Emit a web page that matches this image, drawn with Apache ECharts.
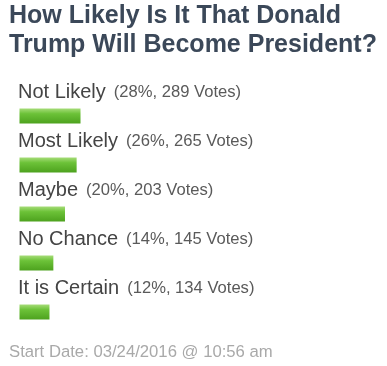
<!DOCTYPE html>
<html><head><meta charset="utf-8">
<script src="https://cdn.jsdelivr.net/npm/echarts@6/dist/echarts.min.js"></script>
<style>html,body{margin:0;padding:0;background:#fff}#c{width:387px;height:366px}</style>
</head><body><div id="c"></div>
<script>
const titleText = "How Likely Is It That Donald\nTrump Will Become President?";
const footerText = "Start Date: 03/24/2016 @ 10:56 am";
const categories = ["Not Likely", "Most Likely", "Maybe", "No Chance", "It is Certain"];
const percents = [28, 26, 20, 14, 12];
const votes = [289, 265, 203, 145, 134];

const BASE = 3.45; // bar padding (style)
const chart = echarts.init(document.getElementById('c'), null, {renderer: 'canvas'});
const green = new echarts.graphic.LinearGradient(0, 0, 0, 1, [
  {offset: 0, color: '#a6dc78'},
  {offset: 0.35, color: '#6cc238'},
  {offset: 1, color: '#4da21e'}
]);
chart.setOption({
  animation: false,
  title: [{
    text: titleText, left: 9, top: 2, padding: 0,
    textStyle: {fontFamily: 'Liberation Sans, Arial', fontWeight: 'bold', fontSize: 25, lineHeight: 29, color: '#3b4859'}
  }, {
    text: footerText, left: 9, top: 344, padding: 0,
    textStyle: {fontFamily: 'Liberation Sans, Arial', fontWeight: 'normal', fontSize: 16.7, color: '#a9a9a9'}
  }],
  grid: {left: 19.5, top: 91.5, width: 194, height: 245},
  xAxis: {type: 'value', min: 0, max: 100, show: false},
  yAxis: {type: 'category', data: categories, inverse: true, show: false},
  series: [{
    type: 'bar', barWidth: 15,
    data: percents.map(v => v + BASE),
    itemStyle: {color: green},
    label: {
      show: true, position: [-1.5, -5], align: 'left', verticalAlign: 'bottom',
      formatter: p => '{n|' + categories[p.dataIndex] + '}{v|(' + percents[p.dataIndex] + '%, ' + votes[p.dataIndex] + ' Votes)}',
      rich: {
        n: {fontFamily: 'Liberation Sans, Arial', fontSize: 20, color: '#444', lineHeight: 22},
        v: {fontFamily: 'Liberation Sans, Arial', fontSize: 16.6, color: '#5a5a5a', lineHeight: 22, padding: [0, 0, 0, 8]}
      }
    }
  }]
});
</script></body></html>
